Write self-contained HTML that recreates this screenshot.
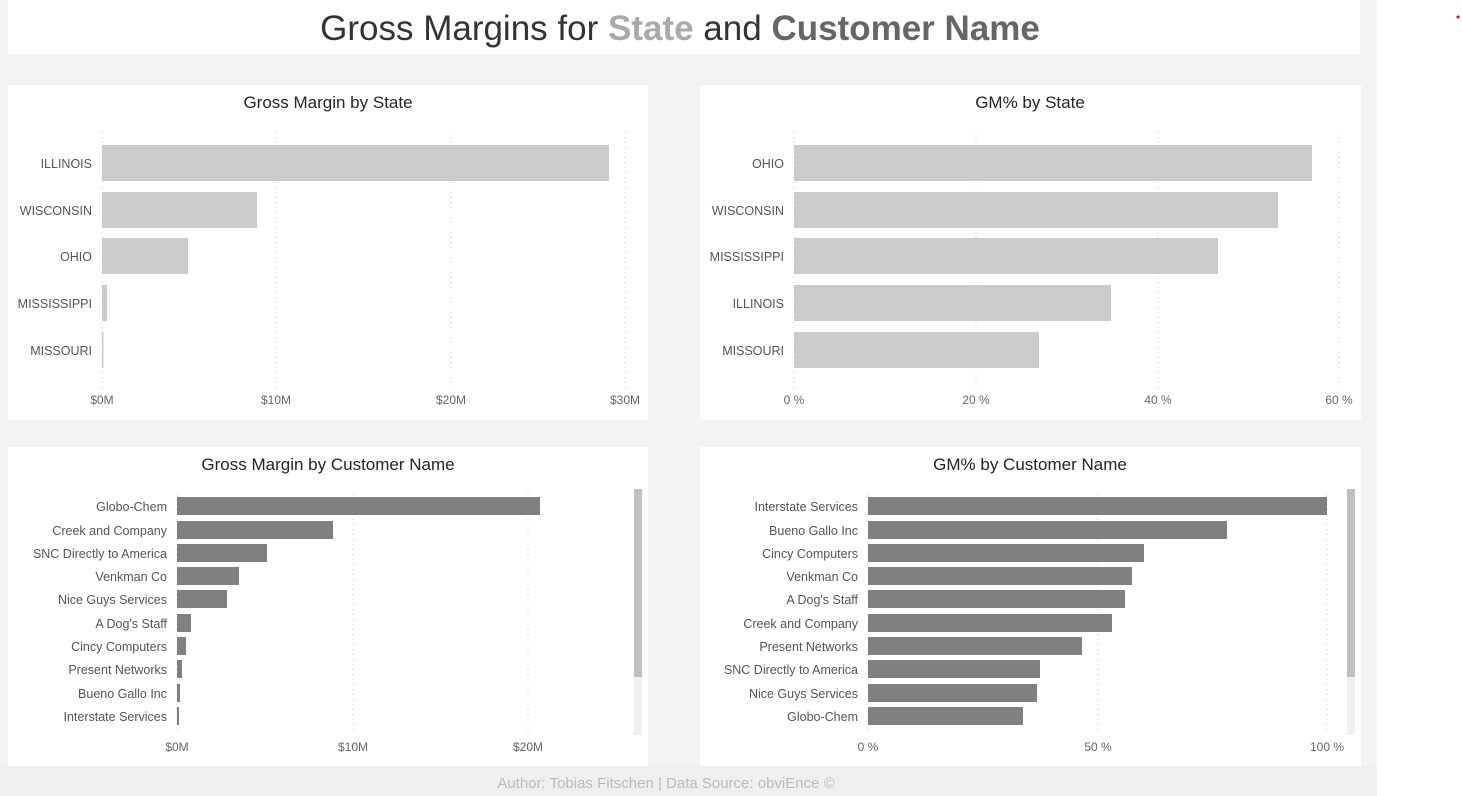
<!DOCTYPE html>
<html><head><meta charset="utf-8"><style>
html,body{margin:0;padding:0;background:#fff;}
svg{display:block;font-family:"Liberation Sans",sans-serif;}
.lab{font-size:12.5px;fill:#555;text-anchor:end;}
.tick{font-size:12px;fill:#666;text-anchor:middle;}
.ttl{font-size:17px;fill:#252423;text-anchor:middle;}
.grid{stroke:#ccc;stroke-width:1;stroke-dasharray:1,4;}
</style></head><body>
<svg width="1462" height="796" viewBox="0 0 1462 796">
<rect x="0" y="0" width="1377" height="796" fill="#f3f3f3"/>
<rect x="0" y="766" width="1377" height="30" fill="#efefef"/>
<rect x="8" y="0" width="1352" height="54" fill="#fff"/>
<text x="680" y="40" text-anchor="middle" font-size="35" fill="#333">Gross Margins for <tspan font-weight="bold" fill="#aaa">State</tspan> and <tspan font-weight="bold" fill="#666">Customer Name</tspan></text>
<circle cx="1458" cy="17" r="1.5" fill="#d00"/>
<text x="666" y="788" text-anchor="middle" font-size="15" fill="#bbb">Author: Tobias Fitschen | Data Source: obviEnce ©</text>

<!-- TL -->
<rect x="8" y="85" width="640" height="335" fill="#fff"/>
<text class="ttl" x="328" y="108">Gross Margin by State</text>
<g class="grid"><line x1="102" y1="132" x2="102" y2="392"/><line x1="276" y1="132" x2="276" y2="392"/><line x1="451" y1="132" x2="451" y2="392"/><line x1="625" y1="132" x2="625" y2="392"/></g>
<g fill="#cbcbcb">
<rect x="102" y="145" width="507" height="36"/><rect x="102" y="192" width="155" height="36"/><rect x="102" y="238" width="86" height="36"/><rect x="102" y="285" width="5" height="36"/><rect x="102" y="332" width="1.5" height="36"/></g>
<g class="lab"><text x="92" y="168">ILLINOIS</text><text x="92" y="215">WISCONSIN</text><text x="92" y="261">OHIO</text><text x="92" y="308">MISSISSIPPI</text><text x="92" y="355">MISSOURI</text></g>
<g class="tick"><text x="102" y="404">$0M</text><text x="276" y="404">$10M</text><text x="451" y="404">$20M</text><text x="625" y="404">$30M</text></g>

<!-- TR -->
<rect x="700" y="85" width="661" height="335" fill="#fff"/>
<text class="ttl" x="1030" y="108">GM% by State</text>
<g class="grid"><line x1="794" y1="132" x2="794" y2="392"/><line x1="976" y1="132" x2="976" y2="392"/><line x1="1158" y1="132" x2="1158" y2="392"/><line x1="1339" y1="132" x2="1339" y2="392"/></g>
<g fill="#cbcbcb">
<rect x="794" y="145" width="518" height="36"/><rect x="794" y="192" width="484" height="36"/><rect x="794" y="238" width="424" height="36"/><rect x="794" y="285" width="317" height="36"/><rect x="794" y="332" width="245" height="36"/></g>
<g class="lab"><text x="784" y="168">OHIO</text><text x="784" y="215">WISCONSIN</text><text x="784" y="261">MISSISSIPPI</text><text x="784" y="308">ILLINOIS</text><text x="784" y="355">MISSOURI</text></g>
<g class="tick"><text x="794" y="404">0 %</text><text x="976" y="404">20 %</text><text x="1158" y="404">40 %</text><text x="1339" y="404">60 %</text></g>

<!-- BL -->
<rect x="8" y="447" width="640" height="319" fill="#fff"/>
<text class="ttl" x="328" y="470">Gross Margin by Customer Name</text>
<g class="grid"><line x1="177" y1="494" x2="177" y2="732"/><line x1="353" y1="494" x2="353" y2="732"/><line x1="528" y1="494" x2="528" y2="732"/></g>
<g fill="#808080">
<rect x="177" y="497" width="363" height="18"/><rect x="177" y="521" width="156" height="18"/><rect x="177" y="544" width="90" height="18"/><rect x="177" y="567" width="62" height="18"/><rect x="177" y="590" width="50" height="18"/><rect x="177" y="614" width="14" height="18"/><rect x="177" y="637" width="9" height="18"/><rect x="177" y="660" width="5" height="18"/><rect x="177" y="684" width="3" height="18"/><rect x="177" y="707" width="2" height="18"/></g>
<g class="lab"><text x="167" y="511">Globo-Chem</text><text x="167" y="535">Creek and Company</text><text x="167" y="558">SNC Directly to America</text><text x="167" y="581">Venkman Co</text><text x="167" y="604">Nice Guys Services</text><text x="167" y="628">A Dog's Staff</text><text x="167" y="651">Cincy Computers</text><text x="167" y="674">Present Networks</text><text x="167" y="698">Bueno Gallo Inc</text><text x="167" y="721">Interstate Services</text></g>
<g class="tick"><text x="177" y="751">$0M</text><text x="353" y="751">$10M</text><text x="528" y="751">$20M</text></g>
<rect x="634" y="489" width="8" height="246" fill="#f0f0f0"/><rect x="634" y="489" width="8" height="188" fill="#c0c0c0"/>

<!-- BR -->
<rect x="700" y="447" width="661" height="319" fill="#fff"/>
<text class="ttl" x="1030" y="470">GM% by Customer Name</text>
<g class="grid"><line x1="868" y1="494" x2="868" y2="732"/><line x1="1098" y1="494" x2="1098" y2="732"/><line x1="1327" y1="494" x2="1327" y2="732"/></g>
<g fill="#808080">
<rect x="868" y="497" width="459" height="18"/><rect x="868" y="521" width="359" height="18"/><rect x="868" y="544" width="276" height="18"/><rect x="868" y="567" width="264" height="18"/><rect x="868" y="590" width="257" height="18"/><rect x="868" y="614" width="244" height="18"/><rect x="868" y="637" width="214" height="18"/><rect x="868" y="660" width="172" height="18"/><rect x="868" y="684" width="169" height="18"/><rect x="868" y="707" width="155" height="18"/></g>
<g class="lab"><text x="858" y="511">Interstate Services</text><text x="858" y="535">Bueno Gallo Inc</text><text x="858" y="558">Cincy Computers</text><text x="858" y="581">Venkman Co</text><text x="858" y="604">A Dog's Staff</text><text x="858" y="628">Creek and Company</text><text x="858" y="651">Present Networks</text><text x="858" y="674">SNC Directly to America</text><text x="858" y="698">Nice Guys Services</text><text x="858" y="721">Globo-Chem</text></g>
<g class="tick"><text x="868" y="751">0 %</text><text x="1098" y="751">50 %</text><text x="1327" y="751">100 %</text></g>
<rect x="1347" y="489" width="8" height="246" fill="#f0f0f0"/><rect x="1347" y="489" width="8" height="188" fill="#c0c0c0"/>
</svg>
</body></html>
